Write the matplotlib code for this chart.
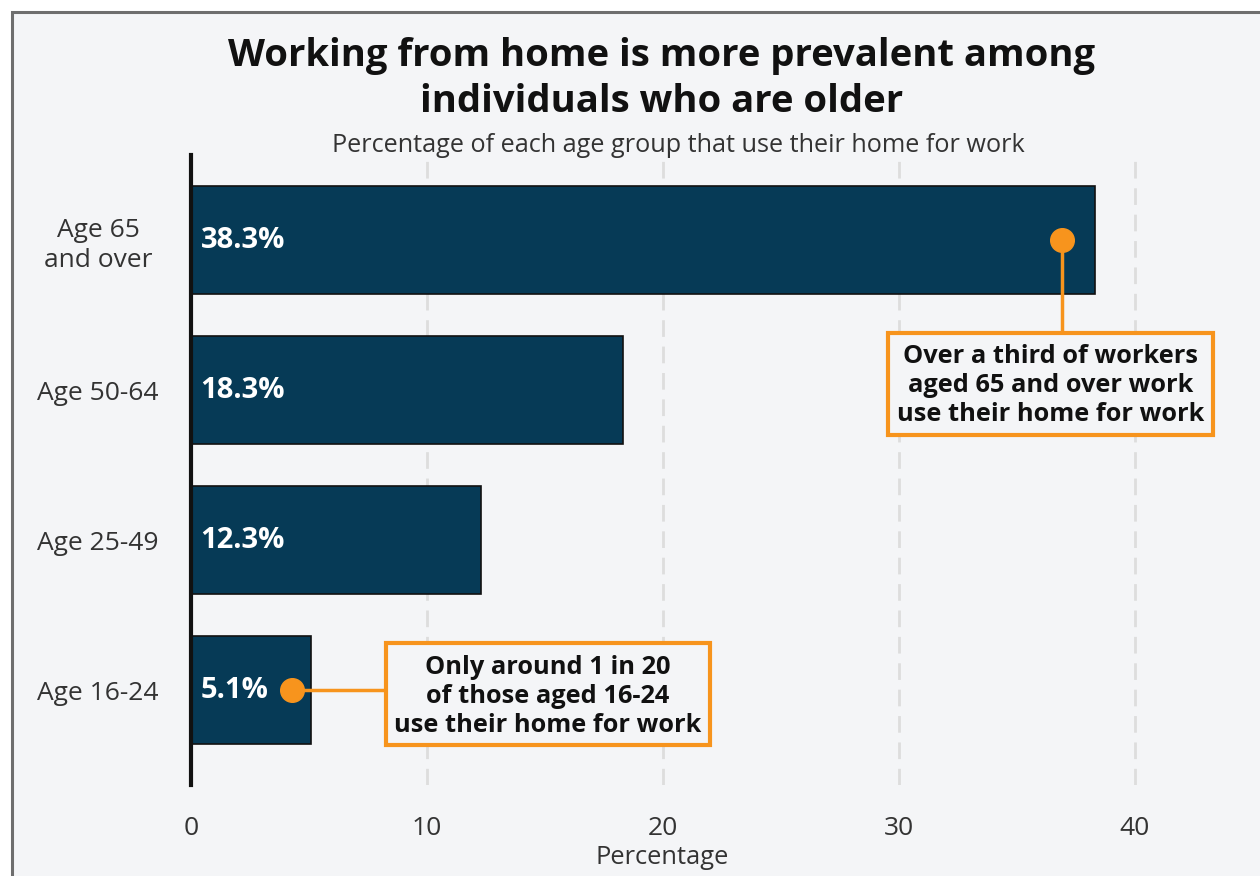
import matplotlib.pyplot as plt
from matplotlib.patches import Rectangle

plt.rcParams["font.family"] = ["Open Sans", "DejaVu Sans"]

# age groups, top to bottom
groups = ["Age 65\nand over", "Age 50-64", "Age 25-49", "Age 16-24"]
shares = [38.3, 18.3, 12.3, 5.1]
value_labels = ["38.3%", "18.3%", "12.3%", "5.1%"]
x_ticks = [0, 10, 20, 30, 40]

title = "Working from home is more prevalent among\nindividuals who are older"
subtitle = "Percentage of each age group that use their home for work"
note_old = "Over a third of workers\naged 65 and over work\nuse their home for work"
note_young = "Only around 1 in 20\nof those aged 16-24\nuse their home for work"

BG = "#f4f5f7"
NAVY = "#063a56"
ORANGE = "#f7941d"

fig = plt.figure(figsize=(12.6, 8.76), dpi=100, facecolor="white")
# framed panel, open on the right and bottom
fig.patches.append(Rectangle((12 / 1260, -0.1), 1.2, 1 - 12 / 876 + 0.1,
                             transform=fig.transFigure, facecolor=BG,
                             edgecolor="#6e6e6e", linewidth=2.2, zorder=-5))

ax = fig.add_axes([191 / 1260, 1 - 785 / 876, 45 * 23.6 / 1260, 630 / 876])
ax.set_facecolor("none")

ypos = list(range(len(groups)))[::-1]
ax.barh(ypos, shares, height=0.72, color=NAVY, edgecolor="#111111",
        linewidth=1.2, zorder=3)
for y, lab in zip(ypos, value_labels):
    ax.text(0.4, y, lab, color="white", fontsize=21, fontweight="bold",
            va="center", ha="left", zorder=5)

ax.set_xlim(0, 45)
ax.set_ylim(-0.633, 3.567)
ax.set_xticks(x_ticks)
ax.set_xticklabels([str(t) for t in x_ticks], fontsize=19, color="#333333")
ax.set_yticks(ypos)
ax.set_yticklabels(groups, fontsize=19, color="#333333", ha="center",
                   linespacing=1.25)
ax.tick_params(axis="y", length=0, pad=67)
ax.tick_params(axis="x", length=0, pad=22)
ax.grid(axis="x", color="#dddddd", linestyle=(0, (6, 3.5)), linewidth=2,
        zorder=1)
ax.set_axisbelow(True)
for side in ["top", "right", "bottom"]:
    ax.spines[side].set_visible(False)
ax.spines["left"].set_linewidth(3)
ax.spines["left"].set_color("#111111")
ax.spines["left"].set_zorder(6)
ax.set_xlabel("Percentage", fontsize=18.4, color="#333333")
ax.xaxis.set_label_coords(0.444, -0.095)

# callout for the oldest group
ax.plot([36.9, 36.9], [3, 2.38], color=ORANGE, linewidth=2.5, zorder=4)
ax.plot([36.9], [3], "o", color=ORANGE, markersize=17, zorder=6)
ax.add_patch(Rectangle((29.53, 1.70), 13.78, 0.68, facecolor=BG,
                       edgecolor=ORANGE, linewidth=3, zorder=4))
ax.text(36.42, 2.03, note_old, ha="center", va="center", fontsize=18.3,
        fontweight="bold", color="#111111", linespacing=1.22, zorder=5)

# callout for the youngest group
ax.plot([4.3, 8.26], [0, 0], color=ORANGE, linewidth=2.5, zorder=4)
ax.plot([4.3], [0], "o", color=ORANGE, markersize=17, zorder=6)
ax.add_patch(Rectangle((8.26, -0.367), 13.73, 0.68, facecolor=BG,
                       edgecolor=ORANGE, linewidth=3, zorder=4))
ax.text(15.12, -0.045, note_young, ha="center", va="center", fontsize=18.3,
        fontweight="bold", color="#111111", linespacing=1.22, zorder=5)

fig.text(662 / 1260, 1 - 79 / 876, title, ha="center", va="center",
         fontsize=27.5, fontweight="bold", color="#111111", linespacing=1.27)
fig.text(678 / 1260, 1 - 145 / 876, subtitle, ha="center", va="center",
         fontsize=18.2, color="#333333")

fig.savefig("out.png", dpi=100, facecolor="white")
